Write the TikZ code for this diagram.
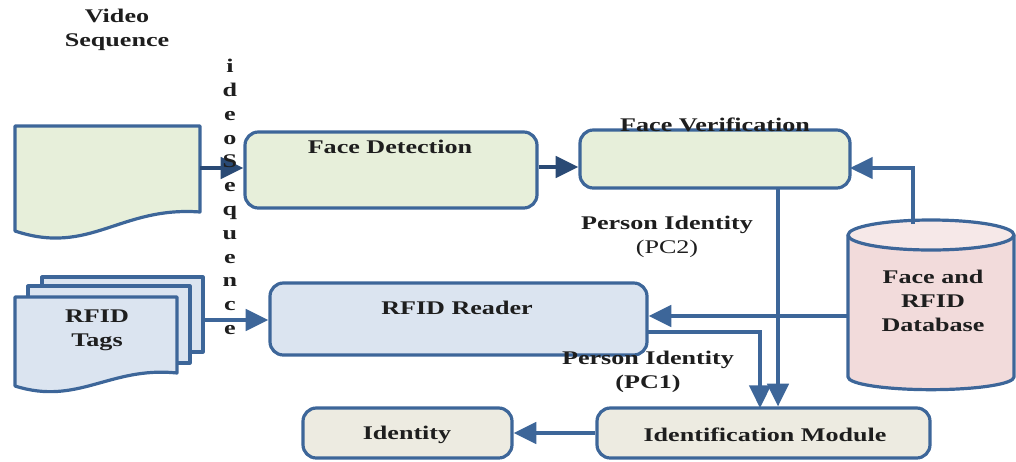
\documentclass[tikz,border=0pt]{standalone}
\usepackage{fontspec}
\setmainfont{Liberation Serif}[FakeStretch=1.35]
\usetikzlibrary{arrows.meta}
\definecolor{bord}{HTML}{3D6699}
\definecolor{arrdark}{HTML}{2A4A75}
\definecolor{greenf}{HTML}{E7EFDA}
\definecolor{bluef}{HTML}{DBE4F0}
\definecolor{beigef}{HTML}{EDEBE1}
\definecolor{pinkf}{HTML}{F2DBDB}
\definecolor{pinktop}{HTML}{F6E8E8}
\definecolor{txt}{HTML}{1E1E1E}
\begin{document}
\begin{tikzpicture}[x=0.75pt,y=-0.75pt,
  box/.style={draw=bord, line width=2.4pt, rounded corners=10pt, inner sep=0pt},
  lbl/.style={font=\fontsize{14.5}{18}\selectfont\bfseries, text=txt, align=center, inner sep=0pt},
  conn/.style={draw=bord, line width=2.6pt, -{Triangle[length=17pt,width=16pt]}},
  conndark/.style={conn, draw=arrdark},
  shp/.style={draw=bord, line width=2.4pt, line join=round}]
\useasboundingbox (0,0) rectangle (1016,461);

% Video sequence document
\filldraw[shp, fill=greenf] (15,126) -- (200,126) -- (200,212)
  .. controls (120,206) and (90,256) .. (15,231) -- cycle;
\coordinate (vdocR) at (200,168);
\node[lbl] (vlabel) at (117,30) {Video\\Sequence};

% RFID tags stack
\filldraw[shp, fill=bluef] (42,277) rectangle (203,352);
\filldraw[shp, fill=bluef] (28,286) rectangle (190,363);
\filldraw[shp, fill=bluef] (15,297) -- (177,297) -- (177,373)
  .. controls (110,366) and (78,406) .. (15,386) -- cycle;
\coordinate (tagsR) at (203,320);
\node[lbl] (tlabel) at (97,330) {RFID\\Tags};

% Boxes
\node[box, fill=greenf, minimum width=219pt, minimum height=57pt] (fd) at (391,170) {};
\node[box, fill=greenf, minimum width=202.5pt, minimum height=43.5pt] (fv) at (715,159) {};
\node[box, fill=bluef, minimum width=282.75pt, minimum height=54pt] (rr) at (458.5,319) {};
\node[box, fill=beigef, minimum width=249.75pt, minimum height=37.5pt] (im) at (763.5,433) {};
\node[box, fill=beigef, minimum width=156.75pt, minimum height=37.5pt] (id) at (407.5,433) {};

% Database cylinder
\filldraw[shp, fill=pinkf] (848,235) -- (848,377)
  arc[start angle=180, end angle=360, x radius=62.25pt, y radius=9.5pt]
  -- (1014,235) -- cycle;
\filldraw[shp, fill=pinktop] (931,235) ellipse[x radius=62.25pt, y radius=11.25pt];
\coordinate (dbtop) at (913,224);
\coordinate (dbleft) at (848,316);
\node[lbl] (dblabel) at (933,301) {Face and\\RFID\\Database};

% Coordinates for connectors
\coordinate (fvin) at (850,168);
\coordinate (fvout) at (778,188);
\coordinate (rrout) at (647,332);
\coordinate (imin) at (760,408);

% Connectors
\draw[conndark] (vdocR) -- (vdocR -| fd.west);
\draw[conndark] (fd.east |- 0,167) -- (fv.west |- 0,167);
\draw[conn] (dbtop) |- (fvin);
\draw[conn] (fvout) -- (fvout |- im.north);
\draw[conn] (dbleft) -- (dbleft -| rr.east);
\draw[conn] (rrout) -| (imin);
\draw[conn] (tagsR) -- (tagsR -| rr.west);
\draw[conn] (im.west) -- (id.east);

% Labels
\node[lbl] (fdlabel) at (390,147) {Face Detection};
\node[lbl] (fvlabel) at (715,125) {Face Verification};
\node[lbl] (rrlabel) at (457,308) {RFID Reader};
\node[lbl] (imlabel) at (765,435) {Identification Module};
\node[lbl] (idlabel) at (407,435) {Identity};
\node[lbl] (pc2) at (667,237) {Person Identity\\{\mdseries (PC2)}};
\node[lbl] (pc1) at (648,372) {Person Identity\\(PC1)};
\node[lbl, font=\fontsize{14.5}{17.85}\selectfont\bfseries, anchor=north] (vseq) at (230,59)
  {i\\d\\e\\o\\S\\e\\q\\u\\e\\n\\c\\e};
\end{tikzpicture}
\end{document}
